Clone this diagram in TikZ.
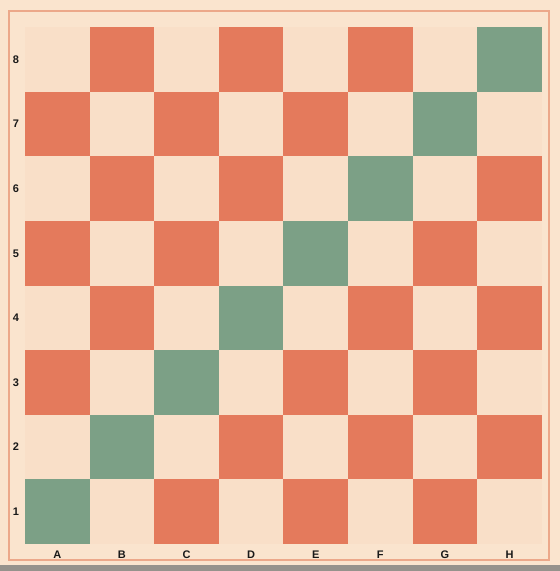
\documentclass[tikz,border=0pt]{standalone}
\usepackage{fontspec}
\setmainfont{Liberation Sans}
\usepackage{xcolor}
\usetikzlibrary{positioning}

\definecolor{paper}{RGB}{250,228,206}
\definecolor{sqlight}{RGB}{249,223,200}
\definecolor{sqdark}{RGB}{228,122,92}
\definecolor{sqgreen}{RGB}{124,160,134}
\definecolor{framecol}{RGB}{236,168,138}
\definecolor{scangray}{RGB}{150,146,140}

\begin{document}
\begin{tikzpicture}[x=1pt, y=1pt]
    % Stili
    \tikzstyle{lightsq}=[fill=sqlight]
    \tikzstyle{greensq}=[fill=sqgreen]
    \tikzstyle{coordlabel}=[font=\bfseries\fontsize{11}{11}\selectfont, text=black!90, inner sep=0pt]

    % Fondo e cornice
    \useasboundingbox (0,0) rectangle (560,571);
    \fill[paper] (0,0) rectangle (560,571);
    \fill[scangray] (0,0) rectangle (560,6);
    \draw[framecol, line width=1.2] (9,11) rectangle (549,560);

    % Scacchiera
    \def\sq{64.6}
    \fill[sqdark] (25,27) rectangle ++(8*\sq,8*\sq);
    \foreach \c in {0,...,7} {
        \foreach \r in {0,...,7} {
            \ifnum\c=\r
                \fill[greensq] (25+\c*\sq,27+\r*\sq) rectangle ++(\sq,\sq);
            \else
                \ifodd\numexpr\c+\r\relax
                    \fill[lightsq] (25+\c*\sq,27+\r*\sq) rectangle ++(\sq,\sq);
                \fi
            \fi
        }
    }

    % Etichette
    \foreach \n [count=\r from 0] in {1,...,8}
        \node (row-\n) [coordlabel] at (16,27+\r*\sq+0.5*\sq) {\n};
    \foreach \l [count=\c from 0] in {A,B,C,D,E,F,G,H}
        \node (col-\l) [coordlabel] at (25+\c*\sq+0.5*\sq,16) {\l};

\end{tikzpicture}
\end{document}
